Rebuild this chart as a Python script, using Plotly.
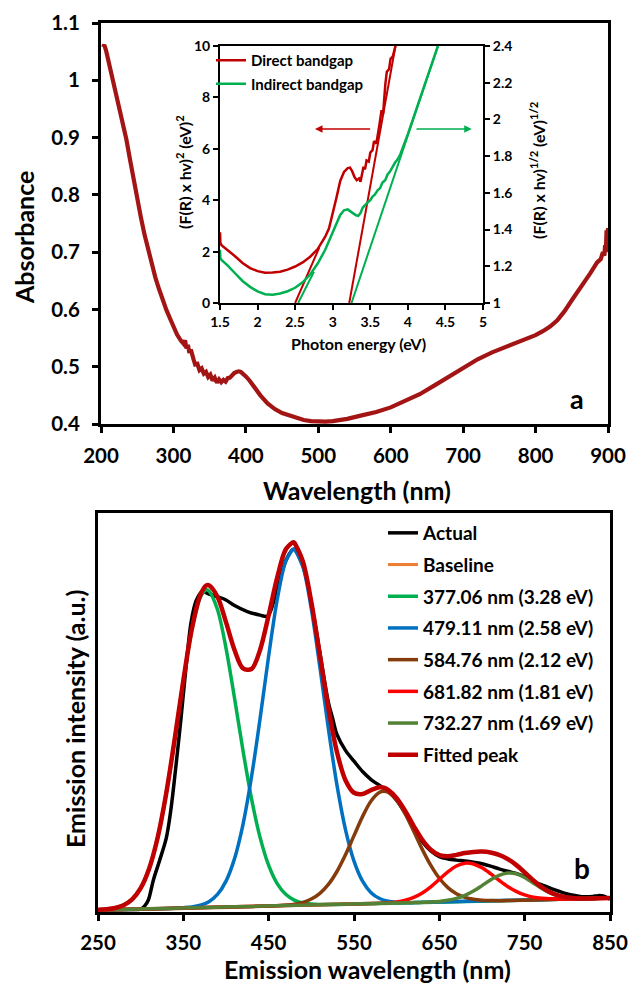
import plotly.graph_objects as go

W, H = 630, 986
FONT = "Lato"

# ---------------- panel a: UV-Vis absorbance ----------------
wavelength_nm = [203, 204.5, 207, 210, 215, 220, 225, 230, 235, 240, 245, 250, 255, 260, 265,
                 270, 275, 280, 285, 290, 295, 300, 305, 310, 314, 316, 318, 320, 322, 324,
                 326, 328, 330, 333, 336, 339, 342, 345, 348, 351, 354, 357, 360, 363, 366,
                 369, 372, 375, 378, 381, 384, 387, 390, 393, 396, 400, 405, 410, 415, 420,
                 430, 440, 450, 460, 470, 480, 490, 500, 510, 520, 540, 560, 580, 600, 620,
                 640, 660, 680, 700, 720, 740, 760, 780, 800, 810, 820, 830, 840, 850, 860,
                 870, 875, 880, 885, 890, 893, 895, 896, 897, 898, 899, 900]
absorbance = [1.058, 1.062, 1.052, 1.036, 1.006, 0.979, 0.953, 0.928, 0.897, 0.862, 0.826,
              0.792, 0.761, 0.731, 0.704, 0.679, 0.656, 0.636, 0.617, 0.600, 0.585, 0.570,
              0.556, 0.546, 0.540, 0.546, 0.532, 0.538, 0.524, 0.530, 0.516, 0.512, 0.504,
              0.505, 0.494, 0.497, 0.488, 0.491, 0.482, 0.486, 0.476, 0.481, 0.472, 0.478,
              0.473, 0.477, 0.474, 0.480, 0.481, 0.486, 0.489, 0.491, 0.492, 0.491, 0.488,
              0.483, 0.476, 0.467, 0.458, 0.450, 0.436, 0.426, 0.419, 0.4145, 0.410, 0.407,
              0.405, 0.404, 0.404, 0.405, 0.409, 0.415, 0.421, 0.429, 0.440, 0.452, 0.467,
              0.483, 0.499, 0.513, 0.525, 0.535, 0.544, 0.555, 0.562, 0.570, 0.581, 0.597,
              0.616, 0.633, 0.653, 0.662, 0.672, 0.682, 0.688, 0.700, 0.694, 0.712, 0.700,
              0.738, 0.705, 0.742]

# inset: Tauc plots
energy_direct = [1.5, 1.505, 1.52, 1.55, 1.6, 1.65, 1.7, 1.8, 1.9, 2.0, 2.1, 2.2, 2.3, 2.4,
                 2.5, 2.6, 2.7, 2.8, 2.9, 2.95, 3.0, 3.05, 3.1, 3.15, 3.2, 3.23, 3.26, 3.29,
                 3.32, 3.35, 3.37, 3.39, 3.41, 3.43, 3.45, 3.48, 3.5, 3.53, 3.55, 3.58, 3.6,
                 3.62, 3.65, 3.67, 3.7, 3.72, 3.75, 3.77, 3.8, 3.82, 3.835]
direct_val = [2.75, 2.35, 2.25, 2.18, 2.08, 1.97, 1.82, 1.56, 1.36, 1.24, 1.18, 1.19, 1.22,
              1.30, 1.42, 1.58, 1.80, 2.10, 2.58, 2.90, 3.45, 4.1, 4.75, 5.1, 5.25, 5.27,
              5.12, 4.9, 4.78, 4.85, 4.72, 5.0, 5.3, 5.2, 5.55, 5.5, 5.85, 5.95, 6.3, 6.2,
              6.65, 6.9, 7.5, 7.35, 8.5, 9.0, 9.1, 9.5, 9.6, 9.9, 10.0]
direct_fit1_e = [2.50, 2.82]
direct_fit1_v = [0.0, 2.15]
direct_fit2_e = [3.22, 3.835]
direct_fit2_v = [0.0, 10.0]

energy_indirect = [1.5, 1.505, 1.52, 1.55, 1.6, 1.7, 1.8, 1.9, 2.0, 2.1, 2.2, 2.3, 2.4, 2.5,
                   2.6, 2.7, 2.8, 2.9, 3.0, 3.05, 3.1, 3.15, 3.2, 3.25, 3.28, 3.31, 3.34,
                   3.37, 3.4, 3.43, 3.46, 3.5, 3.53, 3.56, 3.6, 3.63, 3.66, 3.7, 3.73, 3.76,
                   3.8, 3.83, 3.86, 3.9, 4.0, 4.1, 4.2, 4.3, 4.4]
indirect_val = [1.29, 1.245, 1.235, 1.225, 1.205, 1.162, 1.12, 1.088, 1.063, 1.048, 1.045,
                1.052, 1.064, 1.083, 1.113, 1.155, 1.215, 1.29, 1.39, 1.44, 1.48, 1.505,
                1.51, 1.495, 1.485, 1.478, 1.475, 1.49, 1.52, 1.53, 1.545, 1.56, 1.58, 1.59,
                1.615, 1.625, 1.655, 1.67, 1.70, 1.715, 1.745, 1.765, 1.78, 1.81, 1.92, 2.04,
                2.16, 2.28, 2.4]
indirect_fit1_e = [2.54, 2.75]
indirect_fit1_v = [1.0, 1.17]
indirect_fit2_e = [3.25, 4.40]
indirect_fit2_v = [1.0, 2.4]

# ---------------- panel b: PL deconvolution ----------------
actual_nm = [250, 280, 300, 305, 309, 315, 322, 330, 335, 340, 347, 353, 359, 365, 372, 380,
             390, 400, 410, 425, 440, 448, 452, 460, 470, 479, 490, 500, 510, 520, 525, 530,
             540, 550, 560, 570, 580, 590, 600, 610, 620, 630, 640, 650, 660, 670, 680, 690,
             700, 710, 720, 730, 740, 750, 760, 770, 780, 790, 800, 810, 820, 830, 836, 842,
             850]
actual_int = [0.5, 0.65, 0.75, 1.6, 3.0, 8.1, 12.8, 18.5, 25.0, 34.0, 48.0, 61.0, 72.5, 78.0,
              80.3, 79.7, 79.0, 78.2, 76.8, 75.3, 74.4, 74.1, 75.3, 81.0, 88.0, 90.9, 86.8,
              77.5, 65.0, 52.5, 48.5, 44.5, 40.5, 37.8, 35.2, 33.2, 31.7, 30.2, 28.0, 24.8,
              21.0, 17.6, 15.3, 13.9, 13.3, 13.0, 12.8, 12.5, 12.1, 11.5, 10.8, 10.2, 9.7,
              8.9, 7.6, 6.8, 6.0, 5.2, 4.5, 4.1, 3.8, 3.9, 4.1, 4.0, 3.2]

baseline_nm = [250, 850]
baseline_int = [0.5, 3.5]

p1_nm = [250, 260, 270, 280, 290, 300, 310, 320, 330, 340, 350, 360, 370, 377, 380, 390, 400,
         410, 420, 430, 440, 450, 460, 470, 480, 490, 500, 510, 520, 530, 850]
p1_int = [0.55, 0.70, 1.01, 1.71, 3.17, 5.98, 10.93, 18.75, 29.8, 43.45, 57.95, 70.75, 78.9,
          80.74, 80.45, 75.8, 66.15, 53.6, 40.35, 28.3, 18.65, 11.69, 7.13, 4.43, 2.98, 2.28,
          1.98, 1.88, 1.88, 1.9, 3.5]

p2_nm = [250, 340, 350, 360, 370, 380, 390, 400, 410, 420, 430, 440, 450, 460, 470, 479, 480,
         490, 500, 510, 520, 530, 540, 550, 560, 570, 580, 590, 600, 610, 620, 850]
p2_int = [0.5, 0.95, 1.08, 1.28, 1.71, 2.6, 4.4, 7.74, 13.38, 22.05, 34.0, 48.55, 64.2, 78.25,
          87.9, 90.95, 90.91, 86.6, 75.95, 61.4, 45.95, 31.85, 20.65, 12.74, 7.72, 4.85, 3.38,
          2.7, 2.44, 2.37, 2.35, 3.5]

p3_nm = [250, 460, 470, 480, 490, 500, 510, 520, 530, 540, 550, 560, 570, 580, 585, 590, 600,
         610, 620, 630, 640, 650, 660, 670, 680, 690, 700, 710, 720, 850]
p3_int = [0.5, 1.55, 1.73, 1.97, 2.42, 3.24, 4.67, 6.91, 10.15, 14.34, 19.14, 23.91, 27.8,
          29.99, 30.27, 30.0, 28.05, 24.6, 20.22, 15.7, 11.68, 8.45, 6.11, 4.58, 3.68, 3.19,
          2.97, 2.89, 2.85, 3.5]

p4_nm = [250, 570, 580, 590, 600, 610, 620, 630, 640, 650, 660, 670, 680, 682, 690, 700, 710,
         720, 730, 740, 750, 760, 770, 780, 790, 800, 850]
p4_int = [0.5, 2.1, 2.19, 2.32, 2.54, 2.96, 3.67, 4.78, 6.32, 8.17, 10.05, 11.53, 12.23,
          12.26, 12.02, 11.07, 9.61, 7.96, 6.41, 5.17, 4.28, 3.73, 3.43, 3.3, 3.26, 3.25, 3.5]

p5_nm = [250, 620, 630, 640, 650, 660, 670, 680, 690, 700, 710, 720, 730, 732, 740, 750, 760,
         770, 780, 790, 800, 810, 820, 830, 850]
p5_int = [0.5, 2.35, 2.42, 2.51, 2.66, 2.93, 3.4, 4.16, 5.25, 6.61, 8.03, 9.19, 9.78, 9.79,
          9.59, 8.65, 7.28, 5.89, 4.77, 4.03, 3.62, 3.45, 3.4, 3.4, 3.5]

fitted_nm = [250, 260, 270, 280, 290, 300, 310, 320, 330, 340, 350, 360, 370, 377, 380, 390,
             400, 410, 420, 430, 440, 450, 460, 470, 479, 480, 490, 500, 510, 520, 530, 540,
             550, 560, 570, 580, 585, 590, 600, 610, 620, 630, 640, 650, 660, 670, 680, 690,
             700, 710, 720, 730, 740, 750, 760, 770, 780, 790, 800, 810, 820, 830, 840, 850]
fitted_int = [0.55, 0.70, 1.01, 1.71, 3.17, 5.98, 10.93, 18.75, 29.8, 43.5, 58.03, 70.98,
              79.51, 81.87, 81.9, 79.0, 72.64, 65.68, 61.05, 60.9, 65.75, 74.39, 83.83, 90.86,
              92.7, 92.56, 87.9, 77.67, 64.35, 51.04, 40.1, 33.04, 29.88, 29.58, 30.57, 31.26,
              31.15, 30.62, 28.53, 25.33, 21.54, 18.1, 15.61, 14.28, 13.99, 14.31, 14.77,
              15.06, 15.15, 14.93, 14.3, 13.29, 11.81, 9.93, 7.96, 6.22, 4.92, 4.09, 3.62,
              3.45, 3.4, 3.4, 3.45, 3.5]

legend_names = ["Actual", "Baseline", "377.06 nm (3.28 eV)", "479.11 nm (2.58 eV)",
                "584.76 nm (2.12 eV)", "681.82 nm (1.81 eV)", "732.27 nm (1.69 eV)",
                "Fitted peak"]

# ---------------- colours ----------------
C_ABS = "#A31515"
C_RED = "#C00000"
C_GREEN = "#00B050"
C_BLACK = "#000000"
C_BASE = "#ED7D31"
C_BLUE = "#0070C0"
C_BROWN = "#843C0C"
C_LRED = "#FF0000"
C_OLIVE = "#548235"


def fx(px):
    return px / W


def fy(py):
    return 1 - py / H


def bold(size):
    return dict(family=FONT, size=size, color="black", weight="bold")


fig = go.Figure()

# panel a
fig.add_trace(go.Scatter(x=wavelength_nm, y=absorbance, mode="lines",
                         line=dict(color=C_ABS, width=4.2), xaxis="x", yaxis="y",
                         showlegend=False))

# inset
fig.add_trace(go.Scatter(x=energy_direct, y=direct_val, mode="lines", name="Direct bandgap",
                         line=dict(color=C_RED, width=2.5), xaxis="x2", yaxis="y2",
                         legend="legend", legendgroup="direct"))
fig.add_trace(go.Scatter(x=energy_indirect, y=indirect_val, mode="lines",
                         name="Indirect bandgap", line=dict(color=C_GREEN, width=2.5),
                         xaxis="x2", yaxis="y3", legend="legend", legendgroup="indirect"))
for ex, ev in [(direct_fit1_e, direct_fit1_v), (direct_fit2_e, direct_fit2_v)]:
    fig.add_trace(go.Scatter(x=ex, y=ev, mode="lines", line=dict(color=C_RED, width=2),
                             xaxis="x2", yaxis="y2", showlegend=False))
for ex, ev in [(indirect_fit1_e, indirect_fit1_v), (indirect_fit2_e, indirect_fit2_v)]:
    fig.add_trace(go.Scatter(x=ex, y=ev, mode="lines", line=dict(color=C_GREEN, width=2),
                             xaxis="x2", yaxis="y3", showlegend=False))

# panel b
series_b = [
    (actual_nm, actual_int, C_BLACK, 3.5),
    (baseline_nm, baseline_int, C_BASE, 3.0),
    (p1_nm, p1_int, C_GREEN, 3.5),
    (p2_nm, p2_int, C_BLUE, 3.5),
    (p3_nm, p3_int, C_BROWN, 3.5),
    (p4_nm, p4_int, C_LRED, 3.5),
    (p5_nm, p5_int, C_OLIVE, 3.5),
    (fitted_nm, fitted_int, C_RED, 4.5),
]
for i, (bx, by, col, wd) in enumerate(series_b):
    fig.add_trace(go.Scatter(x=bx, y=by, mode="lines", name=legend_names[i],
                             line=dict(color=col, width=wd, shape="spline", smoothing=0.9),
                             xaxis="x3", yaxis="y4", legend="legend2",
                             legendgroup="b%d" % i))

axis_common = dict(showline=True, linecolor="black", showgrid=False, zeroline=False,
                   ticks="outside", tickcolor="black", automargin=False)

fig.update_layout(
    width=W, height=H, margin=dict(l=0, r=0, t=0, b=0, pad=0, autoexpand=False),
    paper_bgcolor="white", plot_bgcolor="white",
    font=bold(14),
    xaxis=dict(domain=[fx(101), fx(608)], anchor="y", range=[200, 900], tick0=200, dtick=100,
               mirror=True, linewidth=3, ticklen=6, tickwidth=2.5, tickfont=bold(20.5),
               ticklabelstandoff=5, **axis_common),
    yaxis=dict(domain=[fy(424), fy(23)], anchor="x", range=[0.4, 1.1], tick0=0.4, dtick=0.1,
               mirror=True, linewidth=3, ticklen=6, tickwidth=2.5, tickfont=bold(20.5),
               ticklabelstandoff=8, **axis_common),
    xaxis2=dict(domain=[fx(220), fx(483)], anchor="y2", range=[1.5, 5], tick0=1.5, dtick=0.5,
                mirror=True, linewidth=2, ticklen=5, tickwidth=2, tickfont=bold(14),
                **axis_common),
    yaxis2=dict(domain=[fy(303), fy(46)], anchor="x2", range=[0, 10], tick0=0, dtick=2,
                linewidth=2, ticklen=5, tickwidth=2, tickfont=bold(14), **axis_common),
    yaxis3=dict(anchor="x2", overlaying="y2", side="right", range=[1, 2.4], tick0=1,
                dtick=0.2, linewidth=2, ticklen=5, tickwidth=2, tickfont=bold(14),
                **axis_common),
    xaxis3=dict(domain=[fx(98), fx(610)], anchor="y4", range=[250, 850], tick0=250, dtick=100,
                mirror=True, linewidth=3, ticklen=6, tickwidth=2.5, tickfont=bold(20.5),
                ticklabelstandoff=4, **axis_common),
    yaxis4=dict(domain=[fy(912), fy(513)], anchor="x3", range=[0, 100], mirror=True,
                showline=True, linecolor="black", linewidth=3, showgrid=False,
                zeroline=False, ticks="", showticklabels=False, automargin=False),
    legend=dict(x=fx(211), y=fy(44), xanchor="left", yanchor="top",
                bgcolor="rgba(0,0,0,0)", font=bold(15), tracegroupgap=1, itemwidth=30,
                traceorder="grouped"),
    legend2=dict(x=fx(383), y=fy(514), xanchor="left", yanchor="top",
                 bgcolor="rgba(0,0,0,0)", font=bold(19), tracegroupgap=4, itemwidth=30,
                 traceorder="grouped"),
)

annotations = [
    dict(text="Absorbance", x=fx(24), y=fy(238), textangle=-90, font=bold(25)),
    dict(text="Wavelength (nm)", x=fx(357), y=fy(490), font=bold(25)),
    dict(text="(F(R) x hv)<sup>2</sup> (eV)<sup>2</sup>", x=fx(184), y=fy(172),
         textangle=-90, font=bold(16)),
    dict(text="(F(R) x hv)<sup>1/2</sup> (eV)<sup>1/2</sup>", x=fx(538), y=fy(171),
         textangle=-90, font=bold(16)),
    dict(text="Photon energy (eV)", x=fx(358), y=fy(344), font=bold(16)),
    dict(text="a", x=fx(577), y=fy(398), font=bold(27)),
    dict(text="Emission intensity (a.u.)", x=fx(75), y=fy(719), textangle=-90,
         font=bold(25)),
    dict(text="Emission wavelength (nm)", x=fx(367), y=fy(969), font=bold(25)),
    dict(text="b", x=fx(582), y=fy(868), font=bold(28)),
]
for a in annotations:
    a.update(xref="paper", yref="paper", showarrow=False, xanchor="center", yanchor="middle")

# arrows pointing to the axis each curve belongs to
annotations += [
    dict(x=2.764, y=6.77, ax=3.518, ay=6.77, xref="x2", yref="y2", axref="x2", ayref="y2",
         text="", showarrow=True, arrowhead=2, arrowsize=1, arrowwidth=1.5,
         arrowcolor=C_RED),
    dict(x=4.85, y=6.77, ax=4.095, ay=6.77, xref="x2", yref="y2", axref="x2", ayref="y2",
         text="", showarrow=True, arrowhead=2, arrowsize=1, arrowwidth=1.5,
         arrowcolor=C_GREEN),
]
fig.update_layout(annotations=annotations)

fig.write_html("out.html")
